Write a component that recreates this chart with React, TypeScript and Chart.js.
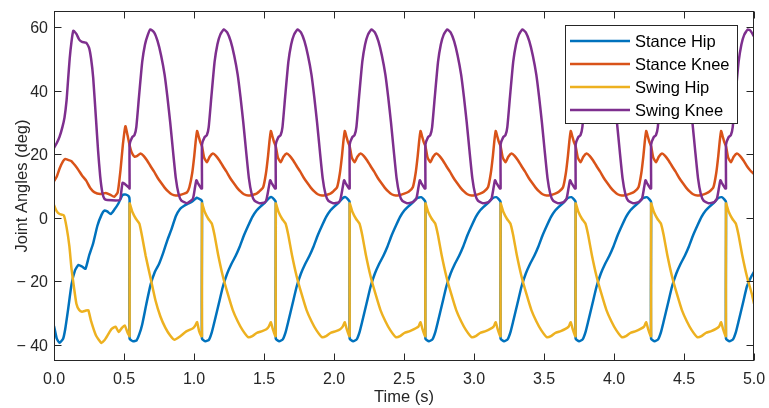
import { useEffect, useRef } from 'react';
import { Chart, registerables } from 'chart.js';

Chart.register(...registerables);

// ---------- data (time in s, angle in deg) ----------
const seriesNames = ['Stance Hip', 'Stance Knee', 'Swing Hip', 'Swing Knee'];
const seriesColors = ['#0072BD', '#D95319', '#EDB120', '#7E2F8E'];

const xTicks = [0, 0.5, 1, 1.5, 2, 2.5, 3, 3.5, 4, 4.5, 5];
const xTickLabels = ['0.0', '0.5', '1.0', '1.5', '2.0', '2.5', '3.0', '3.5', '4.0', '4.5', '5.0'];
const yTicks = [-40, -20, 0, 20, 40, 60];
const yTickLabels = ['\u2212 40', '\u2212 20', '0', '20', '40', '60'];
const xTitle = 'Time (s)';
const yTitle = 'Joint Angles (deg)';

const stanceHip: number[][] = [
  [0, -34], [0.02, -38], [0.04, -39.3], [0.065, -38], [0.08, -35], [0.1, -29], [0.125, -21], [0.15, -16.5], [0.175, -14.8], [0.2, -15.3], [0.225, -16], [0.25, -12], [0.28, -8], [0.31, -2.5], [0.34, 1], [0.36, 2.3], [0.38, 2], [0.405, 1.2], [0.43, 2.5], [0.46, 4.5], [0.49, 7.2], [0.515, 7.3], [0.535, 6.7], [0.54, 5.5],
  [0.54, -38], [0.565, -38.8], [0.59, -38.5], [0.61, -36.5], [0.63, -33.5], [0.66, -27], [0.69, -21], [0.72, -17], [0.75, -14.5], [0.78, -11], [0.81, -7], [0.84, -3.5], [0.87, 0.5], [0.9, 2.8], [0.93, 3.8], [0.96, 4.5], [0.99, 5.2], [1.02, 6.3], [1.035, 6], [1.045, 5.8], [1.057, 5.3],
  [1.057, -38], [1.082, -38.8], [1.107, -38.3], [1.127, -36], [1.147, -32.5], [1.177, -27], [1.207, -21.5], [1.237, -17.5], [1.267, -14.5], [1.297, -12], [1.327, -9], [1.357, -5.5], [1.387, -2.5], [1.417, 0.3], [1.447, 2.3], [1.477, 3.6], [1.507, 4.8], [1.537, 6.2], [1.554, 6.5], [1.572, 5.8], [1.584, 5],
  [1.584, -38], [1.609, -38.8], [1.634, -38.2], [1.654, -36], [1.674, -32.5], [1.704, -27], [1.734, -21.5], [1.764, -17.5], [1.794, -14.5], [1.824, -12], [1.854, -9], [1.884, -5.5], [1.914, -2.5], [1.944, 0.3], [1.974, 2.3], [2.004, 3.6], [2.034, 4.8], [2.064, 6.2], [2.082, 6.5], [2.1, 5.8], [2.112, 5],
  [2.112, -38], [2.137, -38.8], [2.162, -38.2], [2.182, -36], [2.202, -32.5], [2.232, -27], [2.262, -21.5], [2.292, -17.5], [2.322, -14.5], [2.352, -12], [2.382, -9], [2.412, -5.5], [2.442, -2.5], [2.472, 0.3], [2.502, 2.3], [2.532, 3.6], [2.562, 4.8], [2.592, 6.2], [2.623, 6.5], [2.641, 5.8], [2.653, 5],
  [2.653, -38], [2.678, -38.8], [2.703, -38.2], [2.723, -36], [2.743, -32.5], [2.773, -27], [2.803, -21.5], [2.833, -17.5], [2.863, -14.5], [2.893, -12], [2.923, -9], [2.953, -5.5], [2.983, -2.5], [3.013, 0.3], [3.043, 2.3], [3.073, 3.6], [3.103, 4.8], [3.133, 6.2], [3.16, 6.5], [3.178, 5.8], [3.19, 5],
  [3.19, -38], [3.215, -38.8], [3.24, -38.2], [3.26, -36], [3.28, -32.5], [3.31, -27], [3.34, -21.5], [3.37, -17.5], [3.4, -14.5], [3.43, -12], [3.46, -9], [3.49, -5.5], [3.52, -2.5], [3.55, 0.3], [3.58, 2.3], [3.61, 3.6], [3.64, 4.8], [3.67, 6.2], [3.696, 6.5], [3.714, 5.8], [3.726, 5],
  [3.726, -38], [3.751, -38.8], [3.776, -38.2], [3.796, -36], [3.816, -32.5], [3.846, -27], [3.876, -21.5], [3.906, -17.5], [3.936, -14.5], [3.966, -12], [3.996, -9], [4.026, -5.5], [4.056, -2.5], [4.086, 0.3], [4.116, 2.3], [4.146, 3.6], [4.176, 4.8], [4.206, 6.2], [4.235, 6.5], [4.253, 5.8], [4.265, 5],
  [4.265, -38], [4.29, -38.8], [4.315, -38.2], [4.335, -36], [4.355, -32.5], [4.385, -27], [4.415, -21.5], [4.445, -17.5], [4.475, -14.5], [4.505, -12], [4.535, -9], [4.565, -5.5], [4.595, -2.5], [4.625, 0.3], [4.655, 2.3], [4.685, 3.6], [4.715, 4.8], [4.745, 6.2], [4.77, 6.5], [4.788, 5.8], [4.8, 5],
  [4.8, -38], [4.825, -38.8], [4.85, -38.2], [4.87, -36], [4.89, -32.5], [4.92, -27], [4.95, -21.5], [4.98, -18.5], [5, -17],
];

const stanceKnee: number[][] = [
  [0, 11.5], [0.02, 13], [0.04, 15.5], [0.065, 17.8], [0.08, 18.5], [0.1, 18.2], [0.125, 17.8], [0.15, 16.5], [0.175, 15], [0.2, 13.3], [0.23, 11.7], [0.26, 9.3], [0.29, 8], [0.33, 7.5], [0.37, 7.8], [0.4, 7.3], [0.43, 6.6], [0.455, 8], [0.475, 15], [0.492, 23], [0.51, 28.8], [0.525, 26],
  [0.54, 22.8], [0.555, 20.5], [0.575, 19.2], [0.595, 19.5], [0.618, 20.2], [0.64, 19.5], [0.665, 18], [0.69, 16.2], [0.715, 14.5], [0.74, 12.6], [0.765, 11], [0.79, 9.5], [0.815, 8.3], [0.84, 7.4], [0.87, 7], [0.9, 7.2], [0.93, 7.6], [0.95, 8], [0.967, 9.6], [0.987, 14], [1.002, 19.5], [1.012, 24], [1.022, 27.3], [1.032, 25.8], [1.045, 23.8],
  [1.057, 22.5], [1.072, 19], [1.092, 17.5], [1.112, 19.2], [1.135, 20.2], [1.157, 19.5], [1.182, 18], [1.207, 16.2], [1.232, 14.5], [1.257, 12.6], [1.282, 11], [1.307, 9.5], [1.332, 8.3], [1.357, 7.4], [1.387, 7], [1.417, 7.2], [1.447, 7.6], [1.464, 8.2], [1.494, 9.6], [1.514, 14], [1.529, 19.5], [1.539, 24], [1.549, 27.3], [1.559, 25.8], [1.572, 23.8],
  [1.584, 22.5], [1.599, 19], [1.619, 17.5], [1.639, 19.2], [1.662, 20.2], [1.684, 19.5], [1.709, 18], [1.734, 16.2], [1.759, 14.5], [1.784, 12.6], [1.809, 11], [1.834, 9.5], [1.859, 8.3], [1.884, 7.4], [1.914, 7], [1.944, 7.2], [1.974, 7.6], [1.992, 8.2], [2.022, 9.6], [2.042, 14], [2.057, 19.5], [2.067, 24], [2.077, 27.3], [2.087, 25.8], [2.1, 23.8],
  [2.112, 22.5], [2.127, 19], [2.147, 17.5], [2.167, 19.2], [2.19, 20.2], [2.212, 19.5], [2.237, 18], [2.262, 16.2], [2.287, 14.5], [2.312, 12.6], [2.337, 11], [2.362, 9.5], [2.387, 8.3], [2.412, 7.4], [2.442, 7], [2.472, 7.2], [2.502, 7.6], [2.533, 8.2], [2.563, 9.6], [2.583, 14], [2.598, 19.5], [2.608, 24], [2.618, 27.3], [2.628, 25.8], [2.641, 23.8],
  [2.653, 22.5], [2.668, 19], [2.688, 17.5], [2.708, 19.2], [2.731, 20.2], [2.753, 19.5], [2.778, 18], [2.803, 16.2], [2.828, 14.5], [2.853, 12.6], [2.878, 11], [2.903, 9.5], [2.928, 8.3], [2.953, 7.4], [2.983, 7], [3.013, 7.2], [3.043, 7.6], [3.07, 8.2], [3.1, 9.6], [3.12, 14], [3.135, 19.5], [3.145, 24], [3.155, 27.3], [3.165, 25.8], [3.178, 23.8],
  [3.19, 22.5], [3.205, 19], [3.225, 17.5], [3.245, 19.2], [3.268, 20.2], [3.29, 19.5], [3.315, 18], [3.34, 16.2], [3.365, 14.5], [3.39, 12.6], [3.415, 11], [3.44, 9.5], [3.465, 8.3], [3.49, 7.4], [3.52, 7], [3.55, 7.2], [3.58, 7.6], [3.606, 8.2], [3.636, 9.6], [3.656, 14], [3.671, 19.5], [3.681, 24], [3.691, 27.3], [3.701, 25.8], [3.714, 23.8],
  [3.726, 22.5], [3.741, 19], [3.761, 17.5], [3.781, 19.2], [3.804, 20.2], [3.826, 19.5], [3.851, 18], [3.876, 16.2], [3.901, 14.5], [3.926, 12.6], [3.951, 11], [3.976, 9.5], [4.001, 8.3], [4.026, 7.4], [4.056, 7], [4.086, 7.2], [4.116, 7.6], [4.145, 8.2], [4.175, 9.6], [4.195, 14], [4.21, 19.5], [4.22, 24], [4.23, 27.3], [4.24, 25.8], [4.253, 23.8],
  [4.265, 22.5], [4.28, 19], [4.3, 17.5], [4.32, 19.2], [4.343, 20.2], [4.365, 19.5], [4.39, 18], [4.415, 16.2], [4.44, 14.5], [4.465, 12.6], [4.49, 11], [4.515, 9.5], [4.54, 8.3], [4.565, 7.4], [4.595, 7], [4.625, 7.2], [4.655, 7.6], [4.68, 8.2], [4.71, 9.6], [4.73, 14], [4.745, 19.5], [4.755, 24], [4.765, 27.3], [4.775, 25.8], [4.788, 23.8],
  [4.8, 22.5], [4.815, 19], [4.835, 17.5], [4.855, 19.2], [4.878, 20.2], [4.9, 19.5], [4.925, 18], [4.95, 16.2], [4.975, 14.8], [5, 13.8],
];

const swingHip: number[][] = [
  [0, 4], [0.02, 2], [0.04, 1.2], [0.07, 0.8], [0.09, -3], [0.11, -9], [0.125, -16], [0.14, -21], [0.16, -27], [0.18, -29], [0.2, -29.5], [0.225, -29.2], [0.245, -29], [0.265, -32.5], [0.3, -37], [0.338, -39.3], [0.36, -38.5], [0.386, -36.7], [0.41, -35], [0.44, -34.2], [0.462, -35.9], [0.485, -34.6], [0.505, -33.8], [0.525, -36], [0.54, -37.2],
  [0.54, 4.5], [0.56, 1.8], [0.585, -0.3], [0.61, -1.8], [0.63, -6], [0.655, -12], [0.69, -19], [0.725, -26], [0.76, -31], [0.795, -34.5], [0.83, -37], [0.86, -38.3], [0.9, -37.3], [0.945, -35.7], [0.99, -34.8], [1.007, -34], [1.022, -32.8], [1.036, -35.5], [1.052, -37.2], [1.057, -37.2],
  [1.057, 4.5], [1.077, 1.8], [1.102, -0.3], [1.127, -1.8], [1.147, -5.5], [1.172, -11.5], [1.207, -18.5], [1.242, -24], [1.277, -29], [1.312, -32.5], [1.347, -35.3], [1.387, -37.5], [1.417, -37.2], [1.447, -36.2], [1.487, -35.6], [1.517, -35], [1.534, -34.2], [1.549, -32.8], [1.562, -34.8], [1.579, -37], [1.584, -37.2],
  [1.584, 4.5], [1.604, 1.8], [1.629, -0.3], [1.654, -1.8], [1.674, -5.5], [1.699, -11.5], [1.734, -18.5], [1.769, -24], [1.804, -29], [1.839, -32.5], [1.874, -35.3], [1.914, -37.5], [1.944, -37.2], [1.974, -36.2], [2.014, -35.6], [2.044, -35], [2.062, -34.2], [2.077, -32.8], [2.09, -34.8], [2.107, -37], [2.112, -37.2],
  [2.112, 4.5], [2.132, 1.8], [2.157, -0.3], [2.182, -1.8], [2.202, -5.5], [2.227, -11.5], [2.262, -18.5], [2.297, -24], [2.332, -29], [2.367, -32.5], [2.402, -35.3], [2.442, -37.5], [2.472, -37.2], [2.502, -36.2], [2.542, -35.6], [2.572, -35], [2.603, -34.2], [2.618, -32.8], [2.631, -34.8], [2.648, -37], [2.653, -37.2],
  [2.653, 4.5], [2.673, 1.8], [2.698, -0.3], [2.723, -1.8], [2.743, -5.5], [2.768, -11.5], [2.803, -18.5], [2.838, -24], [2.873, -29], [2.908, -32.5], [2.943, -35.3], [2.983, -37.5], [3.013, -37.2], [3.043, -36.2], [3.083, -35.6], [3.113, -35], [3.14, -34.2], [3.155, -32.8], [3.168, -34.8], [3.185, -37], [3.19, -37.2],
  [3.19, 4.5], [3.21, 1.8], [3.235, -0.3], [3.26, -1.8], [3.28, -5.5], [3.305, -11.5], [3.34, -18.5], [3.375, -24], [3.41, -29], [3.445, -32.5], [3.48, -35.3], [3.52, -37.5], [3.55, -37.2], [3.58, -36.2], [3.62, -35.6], [3.65, -35], [3.676, -34.2], [3.691, -32.8], [3.704, -34.8], [3.721, -37], [3.726, -37.2],
  [3.726, 4.5], [3.746, 1.8], [3.771, -0.3], [3.796, -1.8], [3.816, -5.5], [3.841, -11.5], [3.876, -18.5], [3.911, -24], [3.946, -29], [3.981, -32.5], [4.016, -35.3], [4.056, -37.5], [4.086, -37.2], [4.116, -36.2], [4.156, -35.6], [4.186, -35], [4.215, -34.2], [4.23, -32.8], [4.243, -34.8], [4.26, -37], [4.265, -37.2],
  [4.265, 4.5], [4.285, 1.8], [4.31, -0.3], [4.335, -1.8], [4.355, -5.5], [4.38, -11.5], [4.415, -18.5], [4.45, -24], [4.485, -29], [4.52, -32.5], [4.555, -35.3], [4.595, -37.5], [4.625, -37.2], [4.655, -36.2], [4.695, -35.6], [4.725, -35], [4.75, -34.2], [4.765, -32.8], [4.778, -34.8], [4.795, -37], [4.8, -37.2],
  [4.8, 4.5], [4.82, 1.8], [4.845, -0.3], [4.87, -1.8], [4.89, -5.5], [4.915, -11.5], [4.95, -18.5], [4.985, -24], [5, -27],
];

const swingKnee: number[][] = [
  [0, 22], [0.02, 23.5], [0.04, 25.5], [0.06, 28.5], [0.075, 31.5], [0.09, 37], [0.1, 43], [0.112, 50], [0.124, 55], [0.138, 58.8], [0.16, 57.8], [0.18, 56], [0.2, 55.3], [0.23, 55], [0.25, 53.5], [0.265, 50], [0.28, 44], [0.3, 31], [0.315, 21], [0.33, 13], [0.345, 8], [0.36, 6], [0.38, 5.6], [0.47, 5.6], [0.48, 8], [0.49, 11], [0.51, 10.5], [0.535, 9.5], [0.54, 9.2],
  [0.54, 23], [0.558, 25.3], [0.575, 26], [0.588, 28.5], [0.607, 38], [0.63, 49], [0.65, 54.5], [0.67, 57.5], [0.688, 59.2], [0.715, 58.3], [0.74, 55.5], [0.765, 51], [0.79, 45], [0.81, 38], [0.83, 30], [0.85, 21], [0.87, 12.5], [0.89, 7.5], [0.91, 5.4], [0.95, 4.6], [0.992, 6], [1.007, 9.5], [1.017, 11.8], [1.029, 10.8], [1.052, 9.2], [1.057, 9.2],
  [1.057, 23], [1.075, 25.3], [1.092, 26], [1.105, 28.5], [1.124, 38], [1.147, 49], [1.167, 54.5], [1.187, 57.5], [1.212, 59.2], [1.237, 58.3], [1.262, 55.5], [1.287, 51], [1.312, 45], [1.332, 38], [1.352, 30], [1.372, 21], [1.392, 12.5], [1.412, 7.5], [1.432, 5.4], [1.467, 4.6], [1.507, 4.9], [1.519, 6], [1.534, 9.5], [1.544, 11.8], [1.556, 10.8], [1.579, 9.2], [1.584, 9.2],
  [1.584, 23], [1.602, 25.3], [1.619, 26], [1.632, 28.5], [1.651, 38], [1.674, 49], [1.694, 54.5], [1.714, 57.5], [1.739, 59.2], [1.764, 58.3], [1.789, 55.5], [1.814, 51], [1.839, 45], [1.859, 38], [1.879, 30], [1.899, 21], [1.919, 12.5], [1.939, 7.5], [1.959, 5.4], [1.994, 4.6], [2.034, 4.9], [2.047, 6], [2.062, 9.5], [2.072, 11.8], [2.084, 10.8], [2.107, 9.2], [2.112, 9.2],
  [2.112, 23], [2.13, 25.3], [2.147, 26], [2.16, 28.5], [2.179, 38], [2.202, 49], [2.222, 54.5], [2.242, 57.5], [2.267, 59.2], [2.292, 58.3], [2.317, 55.5], [2.342, 51], [2.367, 45], [2.387, 38], [2.407, 30], [2.427, 21], [2.447, 12.5], [2.467, 7.5], [2.487, 5.4], [2.522, 4.6], [2.562, 4.9], [2.588, 6], [2.603, 9.5], [2.613, 11.8], [2.625, 10.8], [2.648, 9.2], [2.653, 9.2],
  [2.653, 23], [2.671, 25.3], [2.688, 26], [2.701, 28.5], [2.72, 38], [2.743, 49], [2.763, 54.5], [2.783, 57.5], [2.808, 59.2], [2.833, 58.3], [2.858, 55.5], [2.883, 51], [2.908, 45], [2.928, 38], [2.948, 30], [2.968, 21], [2.988, 12.5], [3.008, 7.5], [3.028, 5.4], [3.063, 4.6], [3.103, 4.9], [3.125, 6], [3.14, 9.5], [3.15, 11.8], [3.162, 10.8], [3.185, 9.2], [3.19, 9.2],
  [3.19, 23], [3.208, 25.3], [3.225, 26], [3.238, 28.5], [3.257, 38], [3.28, 49], [3.3, 54.5], [3.32, 57.5], [3.345, 59.2], [3.37, 58.3], [3.395, 55.5], [3.42, 51], [3.445, 45], [3.465, 38], [3.485, 30], [3.505, 21], [3.525, 12.5], [3.545, 7.5], [3.565, 5.4], [3.6, 4.6], [3.64, 4.9], [3.661, 6], [3.676, 9.5], [3.686, 11.8], [3.698, 10.8], [3.721, 9.2], [3.726, 9.2],
  [3.726, 23], [3.744, 25.3], [3.761, 26], [3.774, 28.5], [3.793, 38], [3.816, 49], [3.836, 54.5], [3.856, 57.5], [3.881, 59.2], [3.906, 58.3], [3.931, 55.5], [3.956, 51], [3.981, 45], [4.001, 38], [4.021, 30], [4.041, 21], [4.061, 12.5], [4.081, 7.5], [4.101, 5.4], [4.136, 4.6], [4.176, 4.9], [4.2, 6], [4.215, 9.5], [4.225, 11.8], [4.237, 10.8], [4.26, 9.2], [4.265, 9.2],
  [4.265, 23], [4.283, 25.3], [4.3, 26], [4.313, 28.5], [4.332, 38], [4.355, 49], [4.375, 54.5], [4.395, 57.5], [4.42, 59.2], [4.445, 58.3], [4.47, 55.5], [4.495, 51], [4.52, 45], [4.54, 38], [4.56, 30], [4.58, 21], [4.6, 12.5], [4.62, 7.5], [4.64, 5.4], [4.675, 4.6], [4.715, 4.9], [4.735, 6], [4.75, 9.5], [4.76, 11.8], [4.772, 10.8], [4.795, 9.2], [4.8, 9.2],
  [4.8, 23], [4.818, 25.3], [4.835, 26], [4.848, 28.5], [4.867, 38], [4.89, 49], [4.91, 54.5], [4.93, 57.5], [4.955, 59.2], [4.975, 58.8], [5, 57],
];

const seriesData = [stanceHip, stanceKnee, swingHip, swingKnee];

// ---------- styling ----------
const W = 769;
const H = 408;
const AXIS = '#262626';
const FONT = '"Liberation Sans", Arial, Helvetica, sans-serif';
const LINE_W = 2.5;

const decorPlugin = {
  id: 'matlabDecor',
  afterDraw(chart: any) {
    const { ctx, chartArea: a, scales } = chart;
    const x = scales.x;
    const y = scales.y;
    ctx.save();
    ctx.strokeStyle = AXIS;
    ctx.lineWidth = 1;
    const L = Math.round(a.left) + 0.5;
    const R = Math.round(a.right) - 0.5;
    const T = Math.round(a.top) + 0.5;
    const B = Math.round(a.bottom) - 0.5;
    ctx.strokeRect(L, T, R - L, B - T);
    ctx.beginPath();
    xTicks.forEach((v) => {
      const px = Math.round(x.getPixelForValue(v)) + 0.5;
      ctx.moveTo(px, B); ctx.lineTo(px, B - 7);
      ctx.moveTo(px, T); ctx.lineTo(px, T + 7);
    });
    yTicks.forEach((v) => {
      const py = Math.round(y.getPixelForValue(v)) + 0.5;
      ctx.moveTo(L, py); ctx.lineTo(L + 7, py);
      ctx.moveTo(R, py); ctx.lineTo(R - 7, py);
    });
    ctx.stroke();

    // tick labels
    ctx.fillStyle = AXIS;
    ctx.font = `16px ${FONT}`;
    ctx.textBaseline = 'alphabetic';
    ctx.textAlign = 'center';
    xTicks.forEach((v, i) => ctx.fillText(xTickLabels[i], x.getPixelForValue(v), a.bottom + 22.5));
    ctx.textAlign = 'right';
    yTicks.forEach((v, i) => ctx.fillText(yTickLabels[i], a.left - 6, y.getPixelForValue(v) + 6));

    // axis titles
    ctx.font = `16.5px ${FONT}`;
    ctx.textAlign = 'center';
    ctx.fillText(xTitle, (a.left + a.right) / 2, 401.5);
    ctx.save();
    ctx.translate(26.5, (a.top + a.bottom) / 2);
    ctx.rotate(-Math.PI / 2);
    ctx.fillText(yTitle, 0, 0);
    ctx.restore();

    // legend
    const lx = 565.5, ly = 25.5, lw = 172, lh = 98;
    ctx.fillStyle = '#ffffff';
    ctx.fillRect(lx, ly, lw, lh);
    ctx.strokeStyle = AXIS;
    ctx.lineWidth = 1;
    ctx.strokeRect(lx, ly, lw, lh);
    ctx.font = `16.5px ${FONT}`;
    ctx.textAlign = 'left';
    ctx.textBaseline = 'alphabetic';
    seriesNames.forEach((name, i) => {
      const cy = 41 + i * 23;
      ctx.strokeStyle = seriesColors[i];
      ctx.lineWidth = LINE_W;
      ctx.beginPath();
      ctx.moveTo(570, cy);
      ctx.lineTo(630, cy);
      ctx.stroke();
      ctx.fillStyle = '#000000';
      ctx.fillText(name, 635, cy + 6);
    });
    ctx.restore();
  },
};

export default function App() {
  const ref = useRef<HTMLCanvasElement | null>(null);

  useEffect(() => {
    const canvas = ref.current;
    if (!canvas) return;
    const chart = new Chart(canvas, {
      type: 'line',
      data: {
        datasets: seriesNames.map((name, i) => ({
          label: name,
          data: seriesData[i].map((p) => ({ x: p[0], y: p[1] })),
          borderColor: seriesColors[i],
          backgroundColor: seriesColors[i],
          borderWidth: LINE_W,
          pointRadius: 0,
          pointHoverRadius: 0,
          tension: 0.15,
          fill: false,
          order: 4 - i,
          borderJoinStyle: 'round' as const,
        })),
      },
      options: {
        responsive: false,
        animation: false,
        devicePixelRatio: 1,
        layout: { padding: { left: 0, right: 15, top: 11, bottom: 0 } },
        plugins: { legend: { display: false }, tooltip: { enabled: false } },
        events: [],
        scales: {
          x: {
            type: 'linear',
            min: 0,
            max: 5,
            grid: { display: false },
            border: { display: false },
            ticks: { display: false },
            afterFit: (s: any) => { s.height = 47; },
          },
          y: {
            type: 'linear',
            min: -45,
            max: 65,
            grid: { display: false },
            border: { display: false },
            ticks: { display: false },
            afterFit: (s: any) => { s.width = 54; },
          },
        },
      },
      plugins: [decorPlugin],
    });
    return () => chart.destroy();
  }, []);

  return (
    <div style={{ position: 'absolute', left: 0, top: 0, width: W, height: H, background: '#ffffff' }}>
      <canvas ref={ref} width={W} height={H} style={{ display: 'block', width: W, height: H }} />
    </div>
  );
}
